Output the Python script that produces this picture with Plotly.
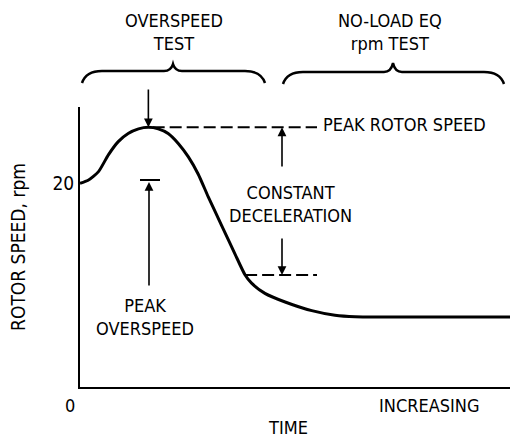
import plotly.graph_objects as go

# ---- data ----
time_vals = [0, 1.9, 4.3, 6.6, 8.9, 11.2, 13.6, 15.9, 18.2, 20.5, 22.9, 25.2, 27.5, 29.8, 33.0,
             36.0, 38.4, 39.9, 43.0, 47.7, 53.9, 59.3, 64.0, 74.4, 100]
speed_vals = [20.0, 20.3, 21.15, 22.8, 24.1, 24.9, 25.35, 25.5, 25.35, 24.9, 23.9, 22.6, 20.9, 18.7, 15.8,
              13.1, 11.0, 10.2, 9.2, 8.35, 7.5, 7.05, 6.9, 6.87, 6.87]
y_tick_vals = [20]
y_tick_text = ["20"]
peak_time = 15.9
peak_speed = 25.5
knee_time = 38.4
knee_speed = 11.0

FONT = "DejaVu Sans Condensed, Liberation Sans Narrow, Arial Narrow, sans-serif"
FS = 18
W, H = 512, 439
ML, MR, MT, MB = 80, 2, 107, 52
X0, X1 = 0, 100
Y0, Y1 = 0, 27.5

def px2paper(px, py):
    return (px - ML) / (W - ML - MR), (H - MB - py) / (H - MB - MT)

def px2data(px, py):
    return X0 + (px - ML) / (W - ML - MR) * (X1 - X0), Y0 + (H - MB - py) / (H - MB - MT) * (Y1 - Y0)

fig = go.Figure()

fig.add_trace(go.Scatter(x=time_vals, y=speed_vals, mode="lines",
                         line=dict(color="black", width=3, shape="spline", smoothing=0.6),
                         hoverinfo="skip"))

dash_end = px2data(317, 0)[0]
fig.add_trace(go.Scatter(x=[peak_time + 1, dash_end], y=[peak_speed, peak_speed], mode="lines",
                         line=dict(color="black", width=2, dash="12px,5px"), hoverinfo="skip"))
fig.add_trace(go.Scatter(x=[knee_time, dash_end], y=[knee_speed, knee_speed], mode="lines",
                         line=dict(color="black", width=2, dash="12px,5px"), hoverinfo="skip"))

# peak overspeed bar
bx0 = px2data(140, 0)[0]
bx1 = px2data(160, 0)[0]
by = px2data(0, 180)[1]
fig.add_trace(go.Scatter(x=[bx0, bx1], y=[by, by], mode="lines",
                         line=dict(color="black", width=2), hoverinfo="skip"))

annotations = []

def arrow(tip, tail):
    annotations.append(dict(x=tip[0], y=tip[1], ax=tail[0], ay=tail[1], xref="x", yref="y",
                            axref="x", ayref="y", text="", showarrow=True, arrowhead=2,
                            arrowsize=1.1, arrowwidth=1.6, arrowcolor="black", standoff=0))

arrow((peak_time, peak_speed), (peak_time, px2data(0, 88)[1]))
ax_cd = px2data(282, 0)[0]
arrow((ax_cd, peak_speed), (ax_cd, px2data(0, 168)[1]))
arrow((ax_cd, knee_speed), (ax_cd, px2data(0, 237)[1]))
ax_po = px2data(149, 0)[0]
arrow((ax_po, px2data(0, 182)[1]), (ax_po, px2data(0, 287)[1]))

def label(text, px, py, anchor="center"):
    xp, yp = px2paper(px, py)
    annotations.append(dict(x=xp, y=yp, xref="paper", yref="paper", text=text, showarrow=False,
                            xanchor=anchor, yanchor="middle", align="center",
                            font=dict(family=FONT, size=FS, color="black")))

label("OVERSPEED<br>TEST", 174, 32)
label("NO-LOAD EQ<br>rpm TEST", 390, 32)
label("PEAK ROTOR SPEED", 321, 124, anchor="left")
label("CONSTANT<br>DECELERATION", 290, 204)
label("PEAK<br>OVERSPEED", 145, 317)
label("0", 70, 405)
label("INCREASING", 429, 405)
label("TIME", 288, 427)

fig.update_layout(annotations=annotations)

def brace(x0, x1, xc, y_end, y_flat, y_cusp):
    pts = [
        ("M", [(x0, y_end)]),
        ("Q", [(x0 + 4, y_flat), (x0 + 20, y_flat)]),
        ("L", [(xc - 9, y_flat)]),
        ("Q", [(xc - 2, y_flat), (xc, y_cusp)]),
        ("Q", [(xc + 2, y_flat), (xc + 9, y_flat)]),
        ("L", [(x1 - 20, y_flat)]),
        ("Q", [(x1 - 4, y_flat), (x1, y_end)]),
    ]
    s = ""
    for cmd, ps in pts:
        s += cmd + " " + " ".join("%.5f,%.5f" % px2paper(a, b) for a, b in ps) + " "
    return s.strip()

shapes = [
    dict(type="path", xref="paper", yref="paper", path=brace(82, 265, 173, 83, 71, 64),
         line=dict(color="black", width=2.5)),
    dict(type="path", xref="paper", yref="paper", path=brace(283, 504, 393, 84, 72, 63),
         line=dict(color="black", width=2.5)),
]
fig.update_layout(shapes=shapes)

fig.update_layout(
    width=W, height=H,
    margin=dict(l=ML, r=MR, t=MT, b=MB),
    paper_bgcolor="white", plot_bgcolor="white",
    showlegend=False, hovermode=False,
    xaxis=dict(range=[X0, X1], showline=True, linecolor="black", linewidth=2,
               showgrid=False, zeroline=False, showticklabels=False, ticks=""),
    yaxis=dict(range=[Y0, Y1], showline=True, linecolor="black", linewidth=2,
               showgrid=False, zeroline=False, ticks="",
               tickvals=y_tick_vals, ticktext=y_tick_text,
               tickfont=dict(family=FONT, size=FS + 1, color="black"),
               title=dict(text="ROTOR SPEED, rpm", font=dict(family=FONT, size=FS + 1, color="black"),
                          standoff=22)),
)

fig.write_html("out.html", config={"displayModeBar": False},
               post_script="document.body.style.margin='0';document.body.style.padding='0';")
